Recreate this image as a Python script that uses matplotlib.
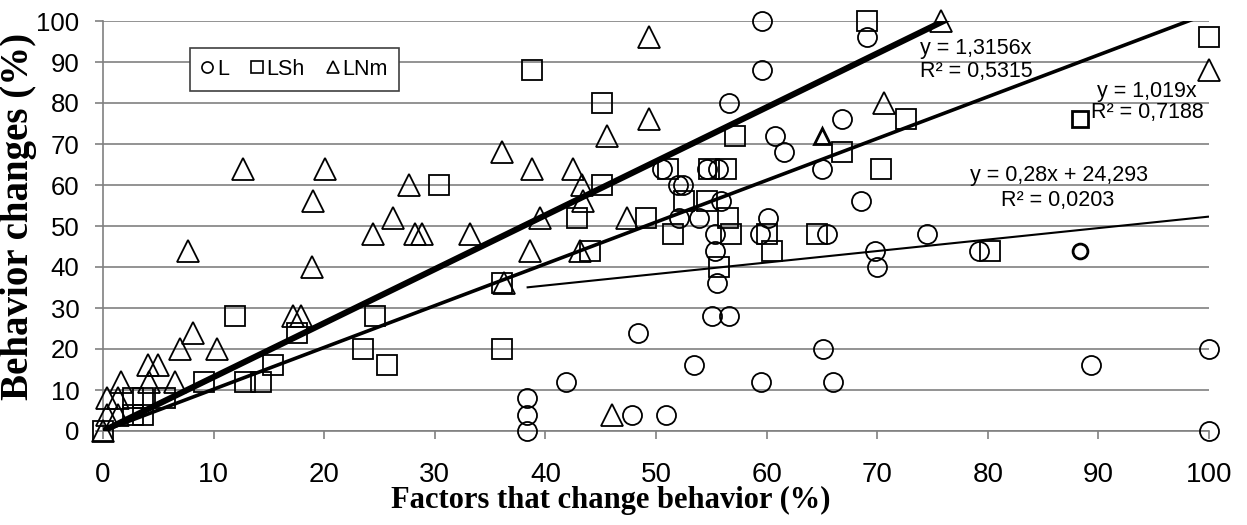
import matplotlib.pyplot as plt
from matplotlib.lines import Line2D

plt.rcParams['font.family'] = ['Liberation Sans', 'DejaVu Sans']

# L - circles
l_x = [59.6, 69.1, 59.6, 56.6, 66.8, 60.8, 61.6, 50.5, 54.6, 55.6, 65.0, 52.0, 52.4,
       55.9, 68.5, 52.1, 53.9, 60.1, 55.3, 59.4, 65.5, 74.5, 55.3, 69.8, 79.2, 70.0,
       55.5, 55.1, 56.6, 48.4, 65.1, 100, 53.4, 89.3, 41.9, 59.5, 66.0, 38.3, 38.3,
       47.8, 50.9, 38.3, 100]
l_y = [100, 96, 88, 80, 76, 72, 68, 64, 64, 64, 64, 60, 60,
       56, 56, 52, 52, 52, 48, 48, 48, 48, 44, 44, 44, 40,
       36, 28, 28, 24, 20, 20, 16, 16, 12, 12, 12, 8, 4,
       4, 4, 0, 0]
l_bold_x = [88.3]
l_bold_y = [44]

# LSh - squares
sh_x = [69.1, 100, 38.8, 45.1, 72.6, 57.1, 66.8, 51.1, 54.8, 56.3, 70.3, 30.4, 45.1,
        52.5, 54.6, 42.9, 49.1, 56.5, 51.5, 56.8, 60.0, 64.6, 44.0, 60.5, 80.2, 55.7,
        36.1, 11.9, 24.6, 17.5, 23.5, 36.1, 15.4, 25.7, 9.1, 12.8, 14.3, 2.7, 3.6, 5.6,
        2.7, 3.6, 0]
sh_y = [100, 96, 88, 80, 76, 72, 68, 64, 64, 64, 64, 60, 60,
        56, 56, 52, 52, 52, 48, 48, 48, 48, 44, 44, 44, 40,
        36, 28, 28, 24, 20, 20, 16, 16, 12, 12, 12, 8, 8, 8,
        4, 4, 0]
sh_bold_x = [88.3]
sh_bold_y = [76]

# LNm - triangles
nm_x = [75.8, 49.4, 100, 70.6, 49.4, 45.6, 36.1, 12.7, 20.1, 38.8, 42.5, 27.7, 43.3,
        19.0, 43.4, 26.2, 39.5, 47.4, 24.4, 28.2, 28.8, 33.2, 7.7, 38.6, 43.1, 18.9,
        36.3, 17.2, 17.9, 8.1, 7.0, 10.3, 4.1, 5.0, 1.6, 4.2, 6.5, 0.4, 1.4, 0.4, 1.4,
        46.0, 0]
nm_y = [100, 96, 88, 80, 76, 72, 68, 64, 64, 64, 64, 60, 60,
        56, 56, 52, 52, 52, 48, 48, 48, 48, 44, 44, 44, 40,
        36, 28, 28, 24, 20, 20, 16, 16, 12, 12, 12, 8, 8, 4, 4,
        4, 0]
nm_bold_x = [65.0]
nm_bold_y = [72]

# linear trendlines: L, LSh, LNm
slopes = [0.28, 1.019, 1.3156]
intercepts = [24.293, 0, 0]
r2_values = [0.0203, 0.7188, 0.5315]
trend_widths = [1.5, 2.6, 4.4]


def num(v):
    return f"{v:g}".replace('.', ',')


fig = plt.figure(figsize=(12.47, 5.25), dpi=100)
ax = fig.add_axes([103 / 1247, 1 - 431 / 525, 1106 / 1247, 410 / 525])

ax.set_xlim(0, 100)
ax.set_ylim(0, 100)
ax.set_xticks(range(0, 101, 10))
ax.set_yticks(range(0, 101, 10))
ax.yaxis.grid(True, color='#808080', lw=1.2)
ax.set_axisbelow(True)
for side in ['top', 'right']:
    ax.spines[side].set_visible(False)
for side in ['left', 'bottom']:
    ax.spines[side].set_color('#808080')
    ax.spines[side].set_linewidth(1.2)
ax.tick_params(direction='out', length=6, width=1.2, color='#808080')
ax.tick_params(axis='x', labelsize=20, pad=16)
ax.tick_params(axis='y', labelsize=18.5, pad=11)

series = [(l_x, l_y, l_bold_x, l_bold_y, 'o', 13.7),
          (sh_x, sh_y, sh_bold_x, sh_bold_y, 's', 15.0),
          (nm_x, nm_y, nm_bold_x, nm_bold_y, '^', 15.5)]
for xs, ys, bx, by, mk, ms in series:
    ax.plot(xs, ys, ls='none', marker=mk, ms=ms, mfc='none', mec='black',
            mew=1.3, clip_on=False, zorder=3)
    ax.plot(bx, by, ls='none', marker=mk, ms=ms * 0.78, mfc='none', mec='black',
            mew=2.0, clip_on=False, zorder=3)

# trendlines over each series' x range
for (xs, ys, bx, by, mk, ms), k, b, lw in zip(series, slopes, intercepts, trend_widths):
    x0 = min(xs)
    x1 = max(xs)
    ax.plot([x0, x1], [k * x0 + b, k * x1 + b], color='black', lw=lw,
            solid_capstyle='butt', zorder=4)

fs = 15.5
ax.text(73.9, 93.4, f"y = {num(slopes[2])}x", fontsize=fs, ha='left', va='center')
ax.text(73.9, 87.6, f"R² = {num(r2_values[2])}", fontsize=fs, ha='left', va='center')
ax.text(98.9, 82.9, f"y = {num(slopes[1])}x", fontsize=fs, ha='right', va='center')
ax.text(99.5, 77.6, f"R² = {num(r2_values[1])}", fontsize=fs, ha='right', va='center')
ax.text(86.4, 62.2, f"y = {num(slopes[0])}x + {num(intercepts[0])}", fontsize=fs,
        ha='center', va='center')
ax.text(86.3, 56.3, f"R² = {num(r2_values[0])}", fontsize=fs, ha='center', va='center')

handles = [Line2D([], [], ls='none', marker=m, ms=8, mfc='none', mec='black', mew=1.2)
           for m in ['o', 's', '^']]
leg = ax.legend(handles, ['L', 'LSh', 'LNm'], loc='upper left',
                bbox_to_anchor=(190 / 1247, 1 - 48 / 525), bbox_transform=fig.transFigure,
                ncol=3, fancybox=False, edgecolor='#404040', framealpha=1,
                handlelength=0.6, handletextpad=0.15, columnspacing=1.0,
                borderpad=0.5, borderaxespad=0, fontsize=15.5)
leg.get_frame().set_linewidth(1.2)
leg.set_zorder(6)

fig.text(611 / 1247, 1 - 500 / 525, 'Factors that change behavior (%)', ha='center',
         va='center', fontsize=22, fontweight='bold', family='Liberation Serif')
fig.text(19 / 1247, 1 - 216 / 525, 'Behavior changes (%)', ha='center', va='center',
         rotation=90, fontsize=28, fontweight='bold', family='Liberation Serif')

fig.savefig('out.png', dpi=100)
